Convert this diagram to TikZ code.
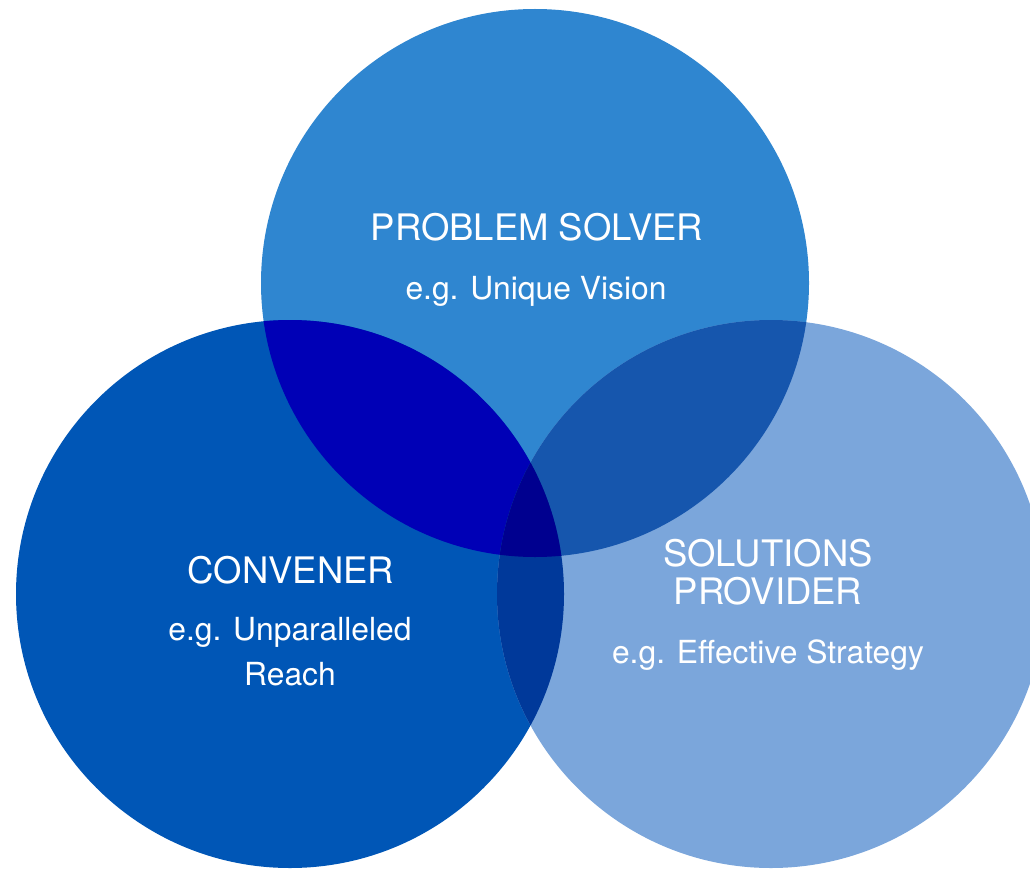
\documentclass[tikz,border=0pt]{standalone}
\usepackage{fontspec}
\setmainfont{TeX Gyre Heros}
\definecolor{ctop}{HTML}{2F86D0}
\definecolor{cleft}{HTML}{0056B6}
\definecolor{cright}{HTML}{7BA6DB}
\definecolor{ctl}{HTML}{0000B6}
\definecolor{ctr}{HTML}{1656AD}
\definecolor{clr}{HTML}{00399A}
\definecolor{ctlr}{HTML}{00008F}
\tikzset{
  head/.style={text=white, anchor=base, inner sep=0pt, font=\fontsize{36.5}{40}\selectfont},
  sub/.style={text=white, anchor=base, inner sep=0pt, font=\fontsize{31.8}{36}\selectfont},
}
\begin{document}
\begin{tikzpicture}[x=1pt,y=-1pt]
\useasboundingbox (0,0) rectangle (1030,869);
\coordinate (ptop) at (535,283);
\coordinate (pleft) at (290,594);
\coordinate (pright) at (771,594);
% the three circles
\fill[ctop] (ptop) circle[radius=274pt];
\fill[cleft] (pleft) circle[radius=274pt];
\fill[cright] (pright) circle[radius=274pt];
% pairwise overlaps
\begin{scope}
  \clip (ptop) circle[radius=274pt];
  \fill[ctl] (pleft) circle[radius=274pt];
  \fill[ctr] (pright) circle[radius=274pt];
\end{scope}
\begin{scope}
  \clip (pleft) circle[radius=274pt];
  \fill[clr] (pright) circle[radius=274pt];
  \clip (pright) circle[radius=274pt];
  \fill[ctlr] (ptop) circle[radius=274pt];
\end{scope}
% labels
\node[head] (t1) at (537,240) {PROBLEM SOLVER};
\node[sub] (t2) at (536,299) {e.g. Unique Vision};
\node[head] (l1) at (291,583) {CONVENER};
\node[sub] (l2) at (290,640) {e.g. Unparalleled};
\node[sub] (l3) at (290,685) {Reach};
\node[head] (r1) at (768,566) {SOLUTIONS};
\node[head] (r2) at (768,604) {PROVIDER};
\node[sub] (r3) at (768,663) {e.g. Effective Strategy};
\end{tikzpicture}
\end{document}
